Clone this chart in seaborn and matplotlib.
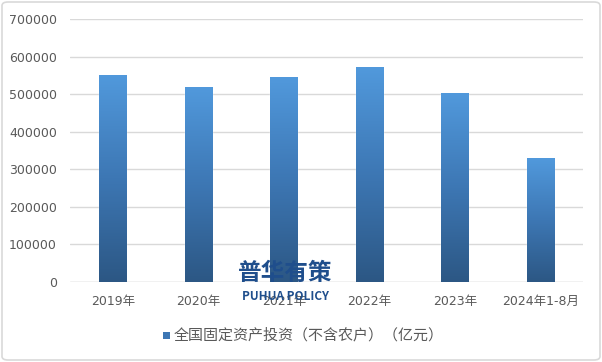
import numpy as np
import pandas as pd
import seaborn as sns
import matplotlib.pyplot as plt
from matplotlib.colors import LinearSegmentedColormap
from matplotlib.patches import FancyBboxPatch, Rectangle

# data (亿元)
years = ['2019年', '2020年', '2021年', '2022年', '2023年', '2024年1-8月']
invest = [551478, 518907, 544547, 572138, 503036, 329385]
series_name = '全国固定资产投资（不含农户）（亿元）'

df = pd.DataFrame({'year': years, 'value': invest})

sns.set_theme(style='white')
plt.rcParams['font.family'] = ['DejaVu Sans', 'Noto Sans CJK SC']

fig = plt.figure(figsize=(6.02, 3.62), dpi=100)
ax = fig.add_axes([70 / 602, 1 - 282 / 362, 513 / 602, 263 / 362])

sns.barplot(data=df, x='year', y='value', color='#4a8ccf', width=0.32, ax=ax)

# gradient fill on the bars
cmap = LinearSegmentedColormap.from_list('bluegrad', ['#2c5784', '#3d77b4', '#5199dc'])
grad = np.linspace(0, 1, 256).reshape(-1, 1)
for p in ax.patches:
    x0, y0 = p.get_x(), p.get_y()
    w, h = p.get_width(), p.get_height()
    im = ax.imshow(grad, cmap=cmap, aspect='auto', origin='lower',
                   extent=[x0, x0 + w, y0, y0 + h], zorder=3)
    im.set_clip_path(p)
    p.set_facecolor('none')

ax.set_xlim(-0.5, len(years) - 0.5)
ax.set_ylim(0, 700000)
ax.set_yticks(range(0, 700001, 100000))
ax.yaxis.grid(True, color='#d9d9d9', linewidth=1)
ax.set_axisbelow(True)
for s in ax.spines.values():
    s.set_visible(False)
ax.axhline(0, color='#d9d9d9', linewidth=1, zorder=1)
ax.set_xlabel('')
ax.set_ylabel('')
ax.tick_params(axis='both', length=0, labelsize=9, labelcolor='#595959')
ax.tick_params(axis='y', pad=9.5)
ax.tick_params(axis='x', pad=9)

# legend
fig.patches.append(Rectangle((163 / 602, 1 - 339 / 362), 7 / 602, 7 / 362,
                             transform=fig.transFigure, facecolor='#3d77b4',
                             edgecolor='none'))
fig.text(174 / 602, 1 - 335 / 362, series_name, fontsize=10.8, color='#595959',
         va='center', ha='left', family=['Noto Sans CJK SC'])

# watermark
fig.text(285 / 602, 1 - 273 / 362, '普华有策', fontsize=17, color='#1f4e8c',
         fontweight='bold', ha='center', va='center', zorder=10,
         family=['Noto Sans CJK SC'])
fig.text(285 / 602, 1 - 297 / 362, 'PUHUA POLICY', fontsize=8.5, color='#1f4e8c',
         fontweight='bold', ha='center', va='center', zorder=10,
         family=['Noto Sans CJK SC'])

# outer frame
fig.patches.append(FancyBboxPatch((2 / 602, 2 / 362), 598 / 602, 358 / 362,
                                  boxstyle='round,pad=0,rounding_size=0.01',
                                  transform=fig.transFigure, facecolor='none',
                                  edgecolor='#d9d9d9', linewidth=1.2))

fig.savefig('out.png', dpi=100)
